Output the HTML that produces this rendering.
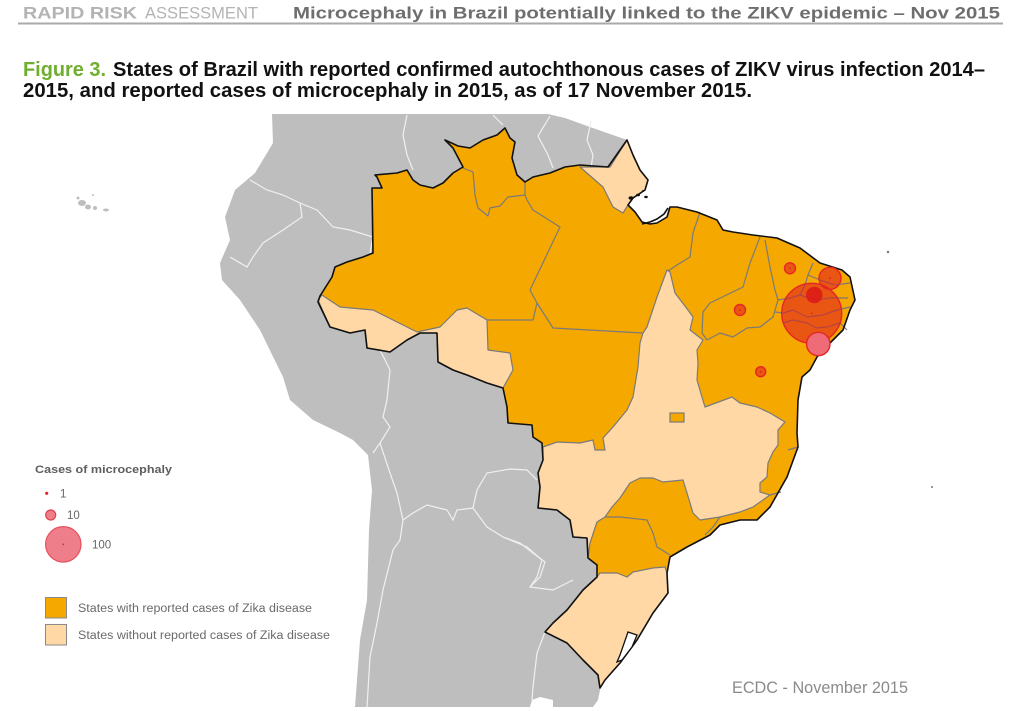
<!DOCTYPE html>
<html><head><meta charset="utf-8"><style>
html,body{margin:0;padding:0;background:#fff;}
svg{display:block;}
text{font-family:"Liberation Sans",Arial,sans-serif;}
</style></head><body>
<svg width="1024" height="711" viewBox="0 0 1024 711" xmlns="http://www.w3.org/2000/svg" xmlns:xlink="http://www.w3.org/1999/xlink">
<defs>
<polygon id="br" points="320,296 332,277 335,267 347,262 363,257 373,253 372,188 382,188 377,177 375,175 397,173 407,170 413,180 420,185 433,188 443,183 453,173 463,167 453,148 445,140 458,146 470,148 483,140 497,135 505,128 510,138 515,142 512,158 517,175 525,182 533,177 550,173 565,167 580,165 608,167 627,140 633,155 640,170 648,180 645,190 633,198 628,205 635,212 642,222 650,224 657,223 667,217 670,207 677,207 697,212 717,220 723,230 733,232 753,235 777,238 800,248 820,263 842,270 850,277 855,300 850,310 843,330 830,343 817,357 810,370 802,377 798,400 797,433 798,447 787,477 770,507 757,520 740,520 720,525 710,535 687,547 670,557 667,573 668,593 653,613 637,640 620,663 605,680 600,688 598,675 583,660 567,643 545,632 553,623 567,610 583,590 597,577 597,565 588,558 587,538 573,537 570,520 557,510 538,508 540,487 538,473 543,460 542,443 533,437 532,425 508,423 507,407 503,388 487,383 467,375 453,370 438,362 437,333 420,333 407,340 390,352 367,348 365,330 350,333 340,330 330,327 318,302"/>
</defs>
<rect width="1024" height="711" fill="#fff"/>
<!-- header -->
<text x="23" y="18.5" font-size="17" font-weight="bold" fill="#b3b3b3" textLength="114" lengthAdjust="spacingAndGlyphs">RAPID RISK</text>
<text x="145" y="18.5" font-size="17" fill="#b3b3b3" textLength="113" lengthAdjust="spacingAndGlyphs">ASSESSMENT</text>
<text x="293" y="18.5" font-size="17" font-weight="bold" fill="#6e6e6e" textLength="707" lengthAdjust="spacingAndGlyphs">Microcephaly in Brazil potentially linked to the ZIKV epidemic – Nov 2015</text>
<line x1="18" y1="23.5" x2="1003" y2="23.5" stroke="#aaaaaa" stroke-width="2"/>
<!-- title -->
<text x="23" y="76" font-size="20" font-weight="bold" fill="#6fae2e" textLength="83" lengthAdjust="spacingAndGlyphs">Figure 3.</text>
<text x="113" y="76" font-size="20" font-weight="bold" fill="#111" textLength="872" lengthAdjust="spacingAndGlyphs">States of Brazil with reported confirmed autochthonous cases of ZIKV virus infection 2014–</text>
<text x="23" y="97" font-size="20" font-weight="bold" fill="#111" textLength="729" lengthAdjust="spacingAndGlyphs">2015, and reported cases of microcephaly in 2015, as of 17 November 2015.</text>

<!-- gray land -->
<polygon fill="#bebebe" points="272,114 548,114 565,118 590,127 610,134 627,140 600,690 598,700 593,707 553,707 553,700 540,697 532,700 530,707 355,707 357,680 360,640 367,600 369,530 372,490 368,455 353,440 340,433 313,420 290,400 283,377 260,330 240,300 222,280 220,263 230,240 225,217 235,190 255,173 273,143"/>
<!-- galapagos -->
<g fill="#bebebe"><ellipse cx="82" cy="203" rx="4" ry="3"/><ellipse cx="88" cy="207" rx="3" ry="2.5"/><circle cx="95" cy="208" r="2"/><circle cx="78" cy="198" r="1.5"/><ellipse cx="106" cy="210" rx="3" ry="1.5"/><circle cx="93" cy="195" r="1"/></g>
<!-- white country borders -->
<g fill="none" stroke="#f0f0f0" stroke-width="1.2">
<polyline points="407,115 403,135 407,155 413,170"/>
<polyline points="493,115 503,125"/>
<polyline points="550,116 538,136 548,155 553,168"/>
<polyline points="591,121 587,140 593,155 591,168"/>
<polyline points="250,180 267,190 283,195 300,203 317,210 333,227 350,230 373,237 370,253"/>
<polyline points="300,203 302,217 283,230 263,243 253,257 247,267 230,257"/>
<polyline points="380,350 390,370 387,400 383,417 390,427 380,443 373,453"/>
<polyline points="380,443 390,473 397,493 403,520 413,513 427,505 447,510 453,520 457,510 473,508 487,527 503,537 527,547 542,560 537,577 530,587 553,590 573,580"/>
<polyline points="473,508 477,490 487,473 510,469 527,470 537,480"/>
<polyline points="530,587 540,577 545,562 533,553 520,543 503,537"/>
<polyline points="403,520 400,540 393,550 383,590 377,623 370,657 367,707"/>
<polyline points="545,632 537,653 533,687 532,700"/>
</g>

<!-- Brazil (orange base) -->
<use href="#br" xlink:href="#br" fill="#f5a800" stroke="none"/>

<!-- beige states -->
<g fill="#ffd8a6" stroke="#7a7a7a" stroke-width="1.2" stroke-linejoin="round">
<polygon points="318,300 322,295 340,307 373,310 417,332 440,327 457,310 467,308 487,320 488,350 510,353 513,370 503,388 487,383 467,375 453,370 438,362 437,333 420,333 407,340 390,352 367,348 365,330 350,333 340,330 330,327"/>
<polygon points="580,167 610,167 627,140 633,155 640,170 648,180 645,190 633,198 628,205 623,213 613,207 603,187"/>
<polygon points="670,272 675,293 688,310 693,317 690,330 703,340 697,350 698,363 697,380 702,397 705,407 732,397 740,403 757,407 770,413 785,422 778,430 778,445 773,452 768,463 767,477 760,483 760,492 770,495 753,507 740,512 720,517 700,520 693,513 687,493 683,480 663,482 653,478 640,478 630,483 620,498 612,507 605,517 597,522 590,543 588,558 587,538 573,537 570,520 557,510 538,508 540,487 538,473 543,460 543,447 557,442 580,443 593,440 595,450 605,450 603,438 613,427 627,410 633,397 638,367 640,343 643,333 647,327 657,297 667,270"/>
<polygon points="600,573 617,573 627,577 633,572 653,568 665,567 667,573 668,593 653,613 637,640 620,663 605,680 600,688 598,675 583,660 567,643 545,632 553,623 567,610 583,590 597,577"/>
</g>
<!-- DF -->
<rect x="670" y="413" width="14" height="9" fill="#f5a800" stroke="#7a7a7a" stroke-width="1.2"/>

<!-- orange/orange state borders -->
<g fill="none" stroke="#7a7a7a" stroke-width="1.2" stroke-linejoin="round">
<polyline points="463,168 473,172 475,195 478,208 488,216 490,208 500,206 508,197 525,195"/>
<polyline points="525,182 525,195 527,200 533,210 560,227 530,290 537,303 533,320"/>
<polyline points="487,320 533,320"/>
<polyline points="537,303 553,328 643,333"/>
<polyline points="700,212 693,233 690,257 677,265 668,271"/>
<polyline points="760,237 750,263 743,287 710,303 703,312 702,333 707,340"/>
<polyline points="707,340 720,333 733,337 747,328 760,327 773,317 778,300"/>
<polyline points="765,240 770,267 775,290 778,300"/>
<polyline points="813,263 808,275 805,285 800,295"/>
<polyline points="778,300 790,298 800,295 815,300 830,298 848,298"/>
<polyline points="808,275 820,280 835,285 850,283"/>
<polyline points="775,312 783,313 793,310 807,317 823,315 837,310 850,307"/>
<polyline points="783,323 793,320 807,323 817,328 827,327 840,323 847,330"/>
<polyline points="788,450 798,447"/>
<polyline points="770,495 781,492"/>
<polyline points="720,517 713,527 705,535"/>
<polyline points="605,517 620,517 647,520 653,533 657,547 670,555"/>
</g>

<!-- Brazil outline -->
<use href="#br" xlink:href="#br" fill="none" stroke="#111" stroke-width="1.6" stroke-linejoin="round"/>
<polygon points="628,632 637,635 632,647 622,660 617,662 620,655" fill="#fff" stroke="#111" stroke-width="1.3"/>
<!-- Amazon delta details -->
<g fill="#111"><ellipse cx="631" cy="198" rx="2.5" ry="1.8"/><ellipse cx="638" cy="195" rx="2" ry="1.3"/><ellipse cx="646" cy="197" rx="1.8" ry="1.2"/><circle cx="643" cy="191" r="1"/></g>
<polyline points="642,224 650,222 657,219 664,214 668,208" fill="none" stroke="#111" stroke-width="1.6"/>

<!-- small islands -->
<circle cx="888" cy="252" r="1.2" fill="#777"/>
<circle cx="932" cy="487" r="1" fill="#777"/>

<!-- microcephaly circles -->
<g stroke="#e52626" stroke-width="1.4">
<circle cx="811.7" cy="313.3" r="30" fill="rgba(225,30,30,0.6)"/>
<circle cx="830" cy="278.3" r="11" fill="rgba(225,30,30,0.6)"/>
<circle cx="814.3" cy="295" r="8.3" fill="rgba(220,25,25,0.85)" stroke="none"/>
<circle cx="818.3" cy="344" r="11.7" fill="#ef6b78"/>
<circle cx="790" cy="268.3" r="5.5" fill="rgba(225,30,30,0.6)"/>
<circle cx="740" cy="310" r="5.5" fill="rgba(225,30,30,0.6)"/>
<circle cx="760.7" cy="371.7" r="5" fill="rgba(225,30,30,0.6)"/>
</g>
<g fill="#d81e1e"><circle cx="811.7" cy="313.3" r="0.8"/><circle cx="830" cy="278.3" r="0.8"/><circle cx="790" cy="268.3" r="0.8"/><circle cx="740" cy="310" r="0.8"/><circle cx="760.7" cy="371.7" r="0.8"/></g>

<!-- legend -->
<text x="35" y="473" font-size="11" font-weight="bold" fill="#5e5e5e" textLength="137" lengthAdjust="spacingAndGlyphs">Cases of microcephaly</text>
<circle cx="46.7" cy="493.3" r="1.6" fill="#e52626"/>
<text x="60" y="497.5" font-size="11.5" fill="#666">1</text>
<circle cx="50.7" cy="515" r="5" fill="#ef7d8a" stroke="#e0404e" stroke-width="1.2"/>
<text x="67" y="519" font-size="11.5" fill="#666">10</text>
<circle cx="63.3" cy="544.3" r="17.7" fill="#ef7e8b" stroke="#e8505e" stroke-width="1.2"/>
<circle cx="63.3" cy="544.3" r="0.8" fill="#d81e1e"/>
<text x="92" y="548.5" font-size="11.5" fill="#666">100</text>
<rect x="45.5" y="597.5" width="21" height="20.5" fill="#f5a800" stroke="#8a8a8a" stroke-width="1"/>
<text x="78" y="612" font-size="11.5" fill="#6a6a6a" textLength="234" lengthAdjust="spacingAndGlyphs">States with reported cases of Zika disease</text>
<rect x="45.5" y="624.5" width="21" height="20.5" fill="#ffd8a6" stroke="#8a8a8a" stroke-width="1"/>
<text x="78" y="639" font-size="11.5" fill="#6a6a6a" textLength="252" lengthAdjust="spacingAndGlyphs">States without reported cases of Zika disease</text>

<text x="732" y="693" font-size="17" fill="#8a8a8a" textLength="176" lengthAdjust="spacingAndGlyphs">ECDC - November 2015</text>
</svg>
</body></html>
